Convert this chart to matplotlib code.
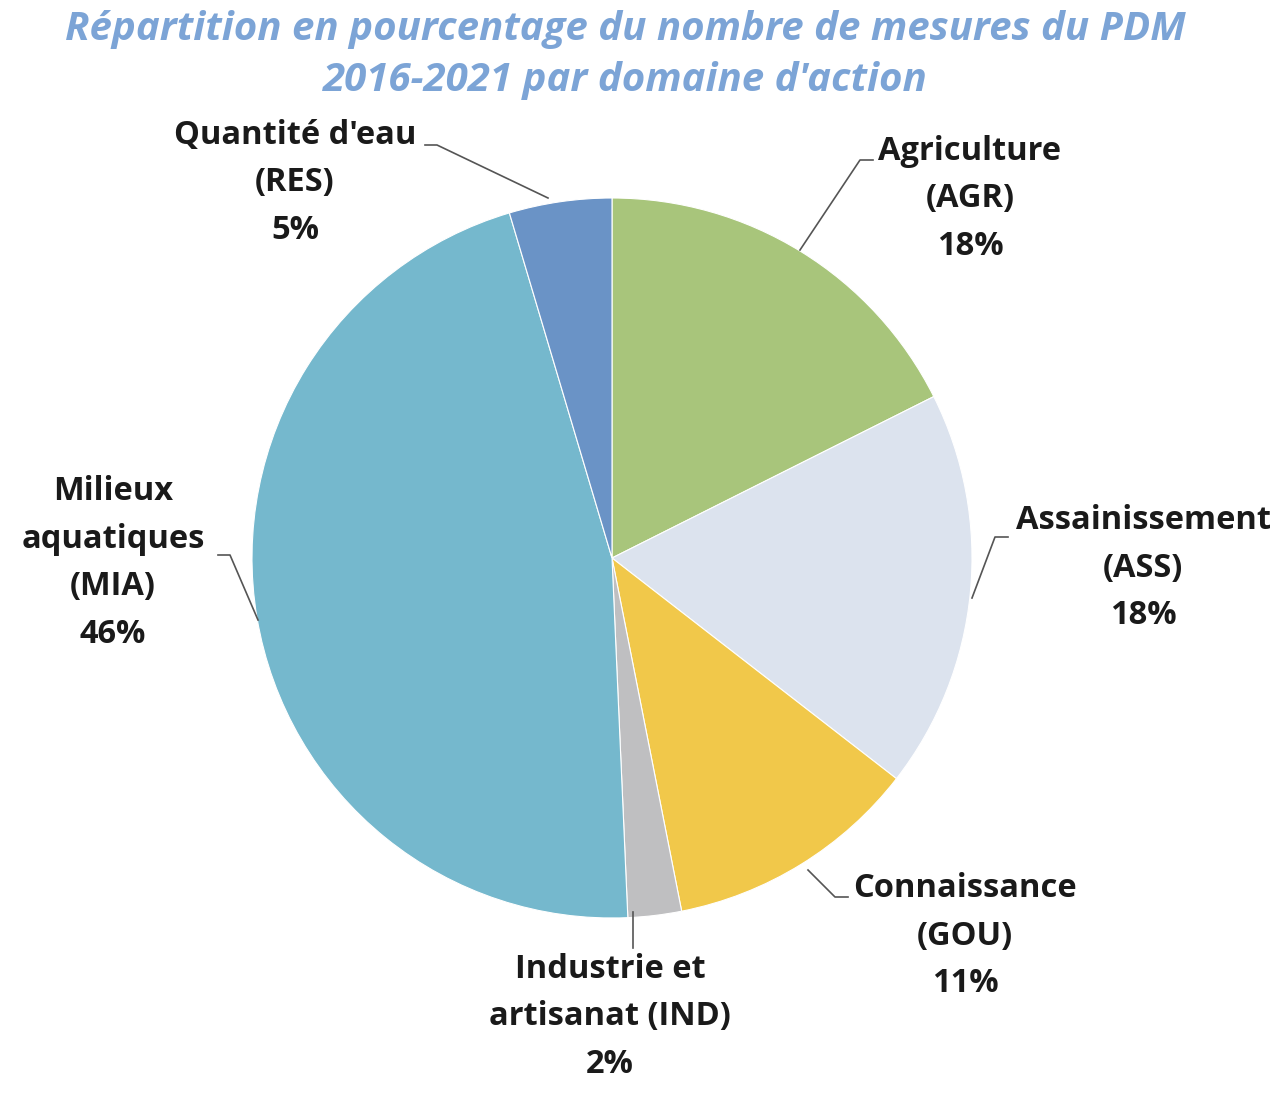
import matplotlib
matplotlib.use("Agg")
import matplotlib.pyplot as plt

categories = ["Agriculture\n(AGR)", "Assainissement\n(ASS)", "Connaissance\n(GOU)",
              "Industrie et\nartisanat (IND)", "Milieux\naquatiques\n(MIA)", "Quantité d'eau\n(RES)"]
values = [17.6, 17.9, 11.4, 2.4, 46.1, 4.6]
colors = ["#A8C57B", "#DCE3EE", "#F1C84A", "#BFBFC1", "#75B8CD", "#6A93C6"]
title = "Répartition en pourcentage du nombre de mesures du PDM\n2016-2021 par domaine d'action"

W, H = 1280, 1101
fig = plt.figure(figsize=(W / 100, H / 100), dpi=100)
ax = fig.add_axes([0, 0, 1, 1])

cx, cy, r = 612, H - 558, 360
ax.pie(values, colors=colors, startangle=90, counterclock=False,
       center=(cx, cy), radius=r, frame=True,
       wedgeprops=dict(edgecolor="white", linewidth=0.8))
ax.set_xlim(0, W)
ax.set_ylim(0, H)
ax.set_aspect("equal")
ax.axis("off")

font = "Open Sans"
total = sum(values)
# label block centers and leader polylines (pixel coordinates, y from top)
label_pos = [(970, 199), (1143, 568), (965, 936), (610, 1017), (113, 563), (295, 183)]
leaders = [
    [(800, 250), (860, 160), (873, 160)],
    [(972, 598), (995, 537), (1008, 537)],
    [(808, 870), (835, 897), (848, 897)],
    [(633, 912), (633, 948)],
    [(258, 620), (230, 555), (218, 555)],
    [(548, 198), (437, 145), (425, 145)],
]
for cat, v, (tx, ty), pts in zip(categories, values, label_pos, leaders):
    txt = cat + "\n" + f"{round(v / total * 100):d}%"
    ax.text(tx, H - ty, txt, ha="center", va="center", multialignment="center",
            fontsize=23.5, fontweight="bold", family=font, color="#1a1a1a",
            linespacing=1.58)
    xs = [p[0] for p in pts]
    ys = [H - p[1] for p in pts]
    ax.plot(xs, ys, color="#555555", lw=1.2)

fig.text(625 / W, 1 - 55 / H, title, ha="center", va="center", fontsize=29,
         fontweight="bold", fontstyle="italic", family=font, color="#7CA4D6",
         linespacing=1.38)

fig.savefig("out.png", dpi=100, facecolor="white")
